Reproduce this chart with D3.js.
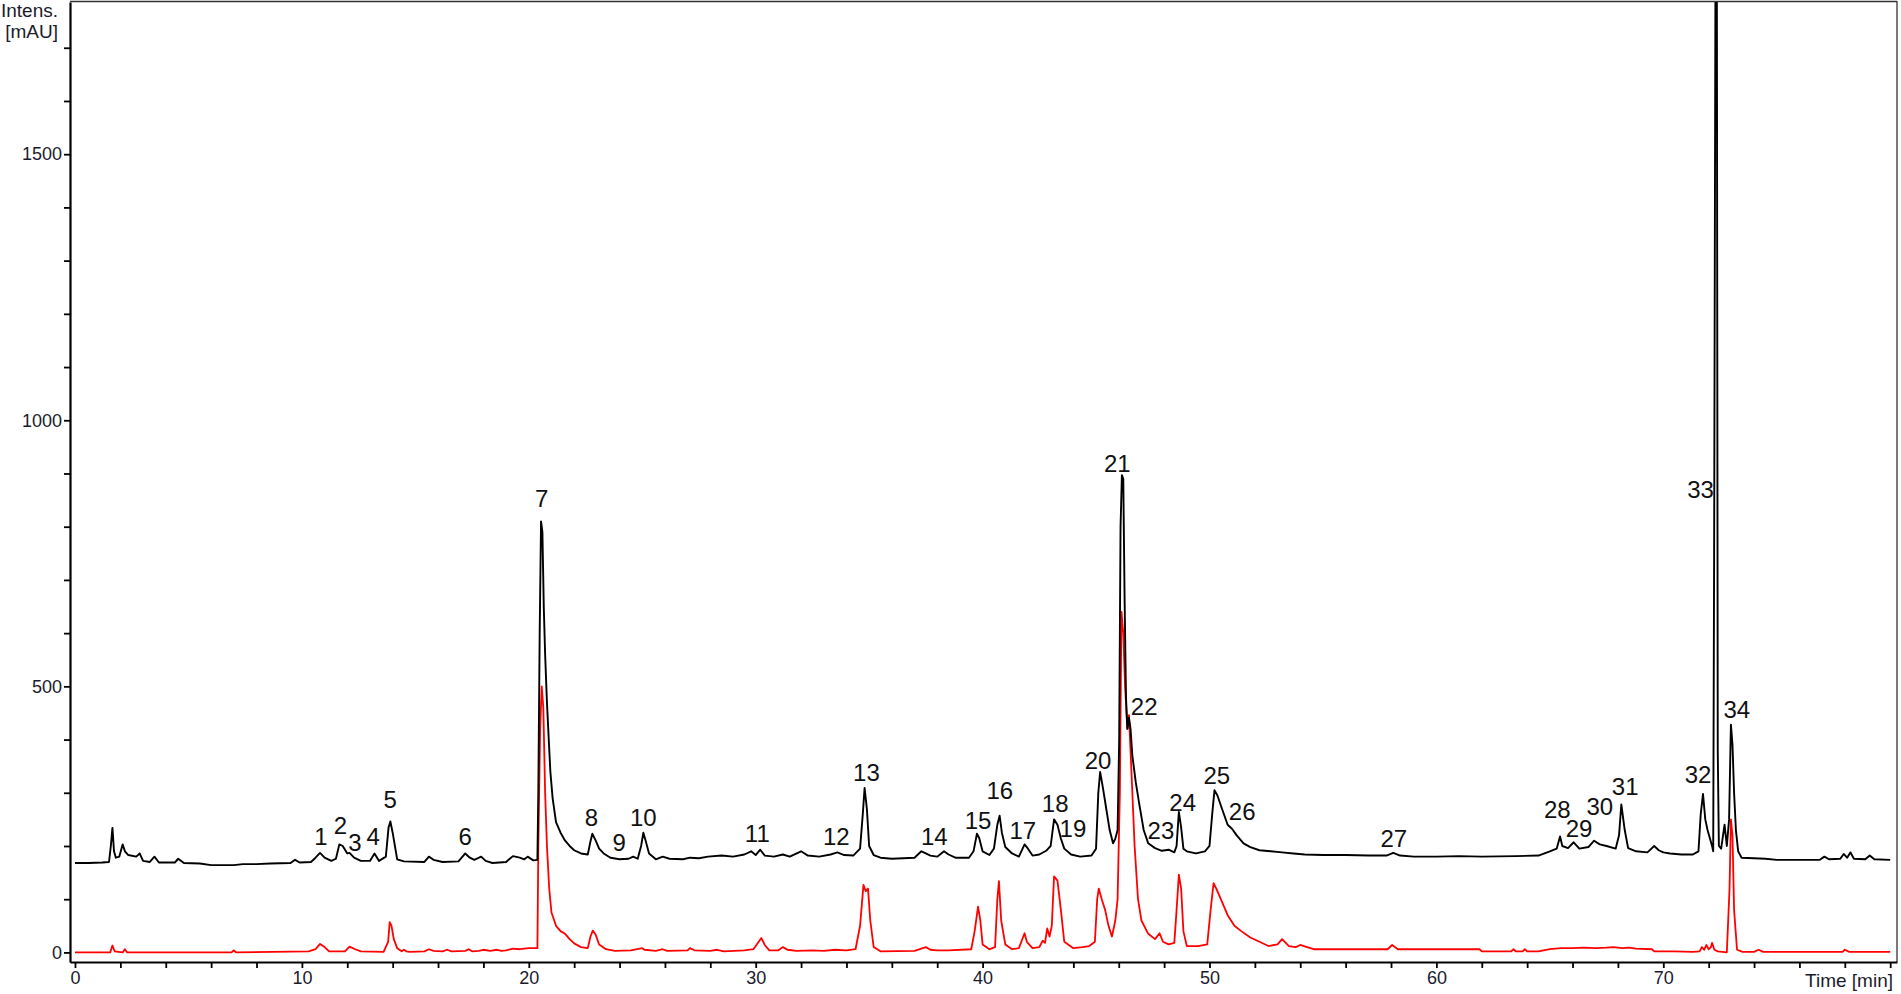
<!DOCTYPE html>
<html>
<head>
<meta charset="utf-8">
<script src="https://cdn.jsdelivr.net/npm/d3@7"></script>
<style>
  html, body { margin: 0; padding: 0; background: #fff; }
  svg { display: block; }
  text { font-family: Arial, "Liberation Sans", sans-serif; }
</style>
</head>
<body>
<svg id="chart" width="1901" height="994"></svg>
<script>
// ---------- DATA ----------
// Black trace (sample) : time [min] / intensity [mAU]
const blackTime = [0,0.6,1.2,1.5,1.58,1.65,1.72,1.8,1.95,2.1,2.2,2.35,2.7,2.85,3.0,3.3,3.5,3.7,4.4,4.55,4.8,5.5,6.0,6.5,7.0,7.4,8.0,8.6,9.5,9.7,9.9,10.4,10.6,10.8,11.0,11.3,11.5,11.65,11.8,12.0,12.1,12.3,12.6,13.0,13.2,13.4,13.7,13.82,13.9,14.0,14.2,14.5,15.4,15.6,15.8,16.2,16.9,17.2,17.4,17.6,17.9,18.1,18.4,19.0,19.3,19.6,19.8,19.95,20.2,20.38,20.42,20.48,20.54,20.6,20.66,20.72,20.8,20.88,20.95,21.05,21.2,21.4,21.6,21.8,22.0,22.3,22.6,22.7,22.8,22.95,23.1,23.3,23.6,24.0,24.4,24.6,24.8,24.95,25.05,25.15,25.3,25.6,25.9,26.2,26.8,27.1,27.5,27.9,28.5,29.0,29.5,29.8,30.0,30.2,30.4,30.8,31.2,31.5,32.0,32.3,32.8,33.3,33.6,33.9,34.3,34.6,34.72,34.8,34.9,35.0,35.2,35.5,36.0,36.5,37.0,37.3,37.5,37.7,38.0,38.3,38.5,38.8,39.4,39.6,39.75,39.85,40.0,40.3,40.5,40.65,40.75,40.85,41.0,41.3,41.6,41.85,42.0,42.2,42.5,42.8,43.0,43.15,43.3,43.45,43.6,43.9,44.3,44.8,45.0,45.1,45.18,45.3,45.45,45.6,45.75,45.85,45.95,46.02,46.08,46.14,46.2,46.26,46.32,46.38,46.45,46.52,46.6,46.75,46.9,47.1,47.3,47.6,47.9,48.2,48.45,48.55,48.65,48.75,48.85,49.0,49.4,49.8,50.0,50.12,50.22,50.35,50.55,50.8,51.0,51.2,51.5,51.8,52.2,52.7,53.2,53.7,54.2,55.0,56.0,57.0,57.8,58.1,58.4,59.0,60.0,61.0,62.0,63.5,64.5,65.0,65.3,65.45,65.55,65.8,66.05,66.3,66.7,66.95,67.2,67.5,67.9,68.05,68.15,68.3,68.45,68.8,69.3,69.6,69.8,70.0,70.3,70.8,71.3,71.55,71.65,71.75,71.85,71.95,72.05,72.15,72.2,72.24,72.3,72.36,72.4,72.45,72.55,72.7,72.8,72.9,72.98,73.05,73.12,73.2,73.3,73.45,74.0,74.5,75.0,76.0,76.9,77.1,77.3,77.8,77.95,78.1,78.25,78.4,78.9,79.1,79.3,80.0];
const blackValue = [168,168,169,170,200,234,190,178,180,203,190,183,180,186,172,170,180,169,169,176,168,167,164,164,164,166,166,167,168,174,169,170,178,187,178,172,176,203,200,186,187,178,172,172,186,172,180,235,246,225,175,171,170,180,174,170,171,186,178,174,180,172,168,170,181,178,175,180,173,174,300,600,810,790,650,560,470,400,340,290,245,225,210,200,192,186,184,205,223,210,195,186,178,175,176,180,176,200,225,210,186,175,180,176,175,178,177,180,182,180,184,190,183,193,182,180,184,180,190,182,180,184,188,183,182,195,260,309,270,200,183,178,176,177,178,190,186,182,180,190,184,178,178,190,223,215,190,183,195,240,257,225,198,186,180,203,195,182,184,191,200,250,240,214,195,184,180,182,195,300,339,310,270,230,205,214,230,400,800,897,890,660,480,420,441,420,370,320,280,230,205,196,191,193,188,200,264,235,195,190,186,190,200,260,305,295,270,240,232,220,205,198,192,190,188,186,184,183,183,182,182,187,182,180,180,181,180,181,182,190,195,218,200,196,207,195,198,210,203,200,195,220,278,230,196,190,188,200,192,188,186,184,184,190,260,298,250,230,215,200,190,742,1850,1850,380,200,195,240,200,250,428,390,300,230,190,178,177,176,174,174,174,180,175,176,185,178,188,176,175,182,175,174];

// Red trace (reference standard) : time [min] / intensity [mAU]  (10 points per line)
const redTime = [
  0,1.55,1.65,1.75,2.1,2.2,2.3,6.9,7.0,7.1,
  10.3,10.6,10.8,11.0,11.2,11.9,12.1,12.35,12.6,13.6,
  13.8,13.87,13.95,14.05,14.2,14.4,14.5,14.6,14.75,15.4,
  15.6,15.8,16.2,16.4,16.6,17.2,17.35,17.5,17.8,18.0,
  18.3,18.6,18.8,19.0,19.3,19.6,20.0,20.38,20.42,20.5,
  20.57,20.64,20.72,20.8,20.9,21.0,21.2,21.4,21.6,21.8,
  22.0,22.3,22.6,22.72,22.82,22.95,23.1,23.4,23.8,24.5,
  25.0,25.1,25.6,25.9,26.1,27.0,27.1,27.3,28.0,28.3,
  28.6,29.5,29.9,30.1,30.25,30.4,30.6,31.0,31.2,31.4,
  31.8,32.5,33.0,33.5,34.0,34.4,34.6,34.75,34.85,34.95,
  35.05,35.2,35.5,37.0,37.5,37.7,38.0,38.5,39.5,39.65,
  39.8,39.9,40.0,40.3,40.55,40.65,40.72,40.82,41.0,41.3,
  41.6,41.85,41.95,42.2,42.5,42.65,42.75,42.85,42.95,43.05,
  43.15,43.3,43.45,43.6,44.0,44.4,44.7,44.95,45.05,45.12,
  45.25,45.4,45.55,45.7,45.85,45.95,46.05,46.12,46.2,46.28,
  46.38,46.45,46.55,46.7,46.85,47.0,47.3,47.6,47.8,47.95,
  48.2,48.45,48.55,48.65,48.75,48.85,49.0,49.5,49.9,50.05,
  50.18,50.3,50.5,50.8,51.1,51.4,51.8,52.2,52.6,53.0,
  53.2,53.5,53.8,54.0,54.3,54.6,55.5,56.5,57.5,57.85,
  58.05,58.3,60.0,61.9,62.0,63.3,63.4,63.5,63.8,63.9,
  64.0,64.5,65.0,65.5,66.0,66.5,67.0,67.5,67.8,68.2,
  68.5,68.8,69.5,69.6,70.5,71.3,71.6,71.7,71.8,71.9,
  72.0,72.1,72.15,72.25,72.4,72.8,72.92,72.98,73.05,73.12,
  73.25,73.5,74.0,74.2,74.4,77.9,78.0,78.2,80.0
];
const redValue = [
  0,0,13,2,0,6,0,0,4,0,
  2,6,16,10,2,2,11,6,2,1,
  20,57,50,25,8,2,5,2,1,2,
  6,3,2,5,2,3,6,2,3,5,
  3,5,3,4,7,6,8,8,200,420,
  500,460,300,200,120,75,50,40,35,25,
  17,10,8,30,41,33,15,6,3,4,
  8,5,3,6,3,4,8,4,3,5,
  2,4,6,18,27,14,4,4,10,5,
  3,4,3,5,4,6,50,127,115,120,
  60,10,2,3,10,5,4,4,6,40,
  86,60,15,6,10,100,134,60,15,6,
  8,36,20,8,10,22,18,45,30,50,
  143,135,80,20,8,10,12,20,100,120,
  100,80,50,30,60,100,300,640,600,500,
  420,446,350,200,100,60,35,25,36,20,
  15,18,80,146,120,40,12,12,15,80,
  130,120,100,70,50,40,28,20,12,15,
  25,12,10,14,10,6,6,6,6,6,
  14,6,6,6,2,2,6,2,2,6,
  2,2,6,8,8,9,8,9,10,8,
  9,7,6,2,2,1,2,10,5,14,
  6,10,18,5,2,0,120,250,220,80,
  5,1,1,5,1,1,5,1,1
];

// Peak labels: number, time [min], intensity [mAU] of label centre
const peakNames = ["1","2","3","4","5","6","7","8","9","10","11","12","13","14","15","16","17","18","19","20","21","22","23","24","25","26","27","28","29","30","31","32","33","34"];
const peakTime  = [10.84,11.70,12.34,13.14,13.89,17.20,20.57,22.76,23.98,25.05,30.07,33.55,34.88,37.87,39.80,40.76,41.77,43.20,43.98,45.09,45.94,47.12,47.86,48.82,50.32,51.44,58.12,65.33,66.29,67.20,68.32,71.53,71.64,73.24];
const peakValue = [218,239,207,218,287,218,853,253,207,253,223,218,339,218,248,305,230,280,232,360,919,462,230,282,332,264,214,268,232,275,312,334,869,457];

// Axis ticks
const xTicks = d3.range(0, 81, 2);
const xLabelTicks = [0,10,20,30,40,50,60,70];
const yTicks = d3.range(0, 1701, 100);
const yLabelTicks = [0,500,1000,1500];

// ---------- CHART ----------
const svg = d3.select("#chart");
const W = 1901, H = 994;
const pLeft = 70, pRight = 1897, pTop = 2, pBottom = 962;

const x = d3.scaleLinear().domain([-0.22, 80.3]).range([pLeft, pRight]);
const y = d3.scaleLinear().domain([-18, 1786]).range([pBottom, pTop]);

svg.append("rect").attr("width", W).attr("height", H).attr("fill", "#fff");

svg.append("defs").append("clipPath").attr("id", "plotclip")
  .append("rect").attr("x", pLeft).attr("y", pTop).attr("width", pRight - pLeft).attr("height", pBottom - pTop);

// frame (top, right)
svg.append("line").attr("x1", pLeft).attr("x2", pRight).attr("y1", 1.5).attr("y2", 1.5)
  .attr("stroke", "#333").attr("stroke-width", 1.3);
svg.append("line").attr("x1", pRight).attr("x2", pRight).attr("y1", 1).attr("y2", pBottom)
  .attr("stroke", "#333").attr("stroke-width", 1.3);

const line = d3.line().x(d => x(d[0])).y(d => y(d[1]));
const nR = Math.min(redTime.length, redValue.length);
const nB = Math.min(blackTime.length, blackValue.length);
const redData = redTime.slice(0, nR).map((t, i) => [t, redValue[i]]);
const blackData = blackTime.slice(0, nB).map((t, i) => [t, blackValue[i]]);

const g = svg.append("g").attr("clip-path", "url(#plotclip)");
g.append("path").datum(redData).attr("d", line)
  .attr("fill", "none").attr("stroke", "#ff0000").attr("stroke-width", 1.8).attr("stroke-linejoin", "round");
g.append("path").datum(blackData).attr("d", line)
  .attr("fill", "none").attr("stroke", "#000").attr("stroke-width", 1.9).attr("stroke-linejoin", "round");

// axes
const xAxis = d3.axisBottom(x).tickValues(xTicks).tickSize(6).tickSizeOuter(0).tickPadding(3)
  .tickFormat(d => xLabelTicks.includes(d) ? d : "");
const yAxis = d3.axisLeft(y).tickValues(yTicks).tickSize(6).tickSizeOuter(0).tickPadding(2)
  .tickFormat(d => yLabelTicks.includes(d) ? d : "");

const gx = svg.append("g").attr("transform", `translate(0,${pBottom})`).call(xAxis);
const gy = svg.append("g").attr("transform", `translate(${pLeft},0)`).call(yAxis);
[gx, gy].forEach(a => {
  a.select(".domain").attr("stroke", "#000").attr("stroke-width", 2.2);
  a.selectAll(".tick line").attr("stroke", "#000").attr("stroke-width", 1.8);
  a.selectAll(".tick text").attr("font-size", 18).attr("fill", "#1b1b2b")
    .attr("font-family", "Arial, 'Liberation Sans', sans-serif");
});

// axis titles
svg.append("text").attr("x", 58).attr("y", 17).attr("text-anchor", "end")
  .attr("font-size", 19).attr("fill", "#1b1b2b").text("Intens.");
svg.append("text").attr("x", 58).attr("y", 38).attr("text-anchor", "end")
  .attr("font-size", 19).attr("fill", "#1b1b2b").text("[mAU]");
svg.append("text").attr("x", 1893).attr("y", 987).attr("text-anchor", "end")
  .attr("font-size", 19).attr("fill", "#1b1b2b").text("Time [min]");

// peak labels
svg.append("g").selectAll("text").data(peakNames).join("text")
  .attr("x", (d, i) => x(peakTime[i]))
  .attr("y", (d, i) => y(peakValue[i]))
  .attr("text-anchor", "middle")
  .attr("dominant-baseline", "central")
  .attr("font-size", 24)
  .attr("fill", "#111")
  .text(d => d);

if (redTime.length !== redValue.length || blackTime.length !== blackValue.length) {
  setTimeout(() => { throw new Error(`length mismatch red ${redTime.length}/${redValue.length} black ${blackTime.length}/${blackValue.length}`); }, 0);
}
</script>
</body>
</html>
